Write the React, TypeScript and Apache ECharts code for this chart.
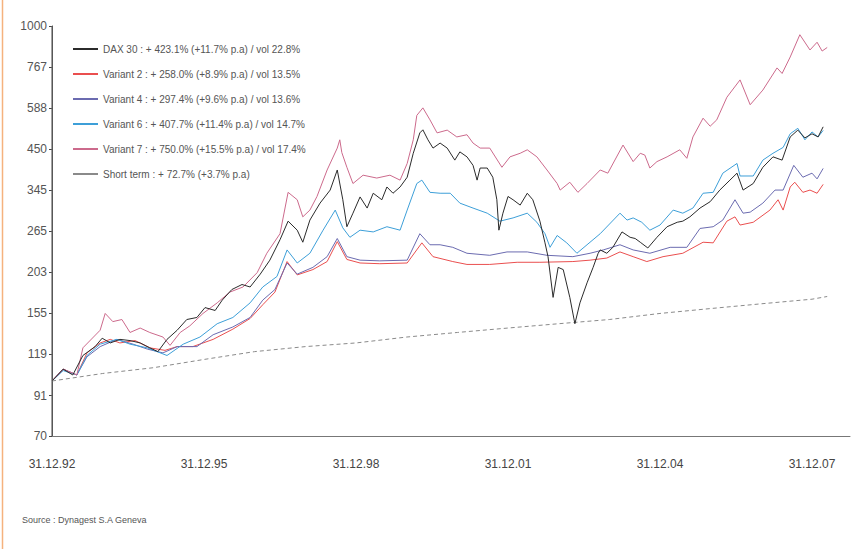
import React, { useEffect, useRef } from "react";
import * as echarts from "echarts";

const xTickValues = [1993, 1996, 1999, 2002, 2005, 2008];
const xTickLabels = ["31.12.92", "31.12.95", "31.12.98", "31.12.01", "31.12.04", "31.12.07"];
const yTickValues = [70, 91, 119, 155, 203, 265, 345, 450, 588, 767, 1000];

const seriesNames = [
  "DAX 30 : + 423.1% (+11.7% p.a) / vol 22.8%",
  "Variant 2 : + 258.0% (+8.9% p.a) / vol 13.5%",
  "Variant 4 : + 297.4% (+9.6% p.a) / vol 13.6%",
  "Variant 6 : + 407.7% (+11.4% p.a) / vol 14.7%",
  "Variant 7 : + 750.0% (+15.5% p.a) / vol 17.4%",
  "Short term : + 72.7% (+3.7% p.a)",
];

const seriesColors = ["#2b2b2b", "#ea4f4f", "#6b6bb0", "#3d9fd8", "#cc6a8c", "#8a8a8a"];

const dax = [
  [1993.0, 100], [1993.22, 108], [1993.41, 104], [1993.61, 118], [1993.85, 125], [1993.99, 132],
  [1994.15, 128], [1994.34, 131], [1994.54, 130], [1994.74, 128], [1994.93, 124], [1995.09, 121],
  [1995.27, 131], [1995.47, 139], [1995.66, 149], [1995.86, 151], [1996.02, 161], [1996.22, 158],
  [1996.36, 169], [1996.55, 181], [1996.75, 187], [1996.91, 184], [1997.11, 200], [1997.30, 219],
  [1997.50, 250], [1997.66, 282], [1997.84, 266], [1997.95, 246], [1998.09, 284], [1998.29, 317],
  [1998.49, 345], [1998.63, 393], [1998.74, 324], [1998.82, 272], [1998.94, 297], [1999.08, 330],
  [1999.22, 307], [1999.34, 338], [1999.51, 324], [1999.61, 352], [1999.73, 338], [1999.87, 352],
  [2000.01, 375], [2000.13, 438], [2000.26, 500], [2000.32, 510], [2000.42, 478], [2000.52, 453],
  [2000.66, 468], [2000.80, 453], [2000.95, 419], [2001.05, 442], [2001.19, 428], [2001.31, 405],
  [2001.39, 368], [2001.45, 398], [2001.59, 398], [2001.70, 375], [2001.78, 324], [2001.82, 266],
  [2001.90, 297], [2002.0, 331], [2002.10, 324], [2002.24, 313], [2002.38, 338], [2002.49, 324],
  [2002.63, 282], [2002.73, 245], [2002.79, 224], [2002.89, 172], [2002.99, 209], [2003.09, 206],
  [2003.22, 172], [2003.32, 145], [2003.42, 166], [2003.56, 189], [2003.68, 209], [2003.78, 229],
  [2003.82, 234], [2003.95, 229], [2004.07, 238], [2004.25, 263], [2004.41, 254], [2004.51, 252],
  [2004.61, 246], [2004.76, 237], [2004.94, 254], [2005.14, 272], [2005.34, 280], [2005.45, 282],
  [2005.59, 290], [2005.79, 307], [2005.99, 320], [2006.18, 345], [2006.38, 368], [2006.52, 385],
  [2006.64, 345], [2006.84, 360], [2007.03, 400], [2007.23, 428], [2007.41, 419], [2007.57, 487],
  [2007.72, 509], [2007.86, 484], [2008.0, 497], [2008.12, 487], [2008.22, 520],
];

const variant2 = [
  [1993.0, 100], [1993.22, 108], [1993.49, 104], [1993.69, 120], [1993.95, 128], [1994.15, 131],
  [1994.34, 128], [1994.64, 130], [1994.93, 124], [1995.23, 122], [1995.47, 125], [1995.78, 125],
  [1996.18, 131], [1996.57, 140], [1996.91, 150], [1997.16, 164], [1997.40, 178], [1997.64, 217],
  [1997.84, 199], [1998.15, 206], [1998.43, 217], [1998.63, 247], [1998.82, 220], [1999.08, 215],
  [1999.47, 214], [2000.01, 215], [2000.30, 245], [2000.52, 224], [2000.91, 217], [2001.19, 213],
  [2001.64, 213], [2002.18, 216], [2002.63, 216], [2003.28, 217], [2003.62, 219], [2003.95, 222],
  [2004.21, 231], [2004.47, 224], [2004.74, 217], [2005.06, 224], [2005.45, 229], [2005.85, 246],
  [2006.05, 245], [2006.32, 282], [2006.48, 290], [2006.58, 275], [2006.84, 280], [2007.17, 303],
  [2007.33, 324], [2007.43, 303], [2007.57, 352], [2007.66, 363], [2007.82, 340], [2007.96, 345],
  [2008.10, 338], [2008.22, 358],
];

const variant4 = [
  [1993.0, 100], [1993.22, 108], [1993.49, 104], [1993.69, 117], [1993.95, 125], [1994.28, 131],
  [1994.60, 127], [1994.88, 123], [1995.19, 120], [1995.47, 125], [1995.86, 125], [1996.18, 135],
  [1996.57, 142], [1996.91, 151], [1997.16, 169], [1997.40, 181], [1997.64, 215], [1997.84, 200],
  [1998.15, 209], [1998.43, 224], [1998.63, 252], [1998.82, 224], [1999.08, 219], [1999.47, 218],
  [2000.01, 219], [2000.26, 260], [2000.46, 242], [2000.66, 242], [2000.91, 238], [2001.19, 229],
  [2001.64, 226], [2001.98, 231], [2002.38, 231], [2002.77, 226], [2003.28, 224], [2003.62, 229],
  [2003.88, 234], [2004.21, 242], [2004.47, 234], [2004.80, 229], [2005.20, 238], [2005.53, 238],
  [2005.79, 269], [2006.05, 272], [2006.24, 284], [2006.48, 324], [2006.64, 297], [2006.78, 299],
  [2007.03, 317], [2007.27, 345], [2007.43, 345], [2007.64, 405], [2007.82, 375], [2008.0, 385],
  [2008.10, 371], [2008.22, 397],
];

const variant6 = [
  [1993.0, 100], [1993.22, 107], [1993.49, 104], [1993.69, 118], [1993.95, 127], [1994.28, 131],
  [1994.54, 127], [1994.88, 124], [1995.27, 118], [1995.59, 127], [1995.92, 133], [1996.26, 145],
  [1996.57, 151], [1996.91, 166], [1997.16, 184], [1997.44, 197], [1997.64, 234], [1997.84, 215],
  [1998.09, 229], [1998.35, 266], [1998.59, 303], [1998.74, 270], [1998.88, 254], [1999.08, 266],
  [1999.34, 263], [1999.61, 272], [1999.87, 266], [2000.01, 303], [2000.20, 360], [2000.30, 368],
  [2000.46, 340], [2000.66, 338], [2000.86, 338], [2001.05, 317], [2001.31, 307], [2001.59, 297],
  [2001.84, 282], [2002.10, 288], [2002.38, 297], [2002.57, 280], [2002.73, 260], [2002.83, 238],
  [2002.97, 257], [2003.16, 245], [2003.36, 229], [2003.56, 242], [2003.82, 260], [2004.21, 297],
  [2004.35, 284], [2004.47, 288], [2004.64, 280], [2004.80, 266], [2005.0, 275], [2005.26, 303],
  [2005.45, 297], [2005.65, 307], [2005.85, 338], [2006.05, 340], [2006.24, 385], [2006.52, 410],
  [2006.58, 378], [2006.84, 378], [2007.03, 419], [2007.23, 438], [2007.43, 455], [2007.57, 497],
  [2007.72, 515], [2007.86, 478], [2008.0, 503], [2008.12, 487], [2008.22, 508],
];

const variant7 = [
  [1993.0, 100], [1993.22, 108], [1993.49, 104], [1993.61, 124], [1993.95, 139], [1994.05, 155],
  [1994.20, 147], [1994.38, 149], [1994.54, 137], [1994.74, 141], [1994.93, 137], [1995.19, 133],
  [1995.33, 126], [1995.53, 137], [1995.72, 143], [1995.98, 155], [1996.26, 166], [1996.51, 178],
  [1996.77, 184], [1997.05, 202], [1997.24, 229], [1997.50, 260], [1997.66, 340], [1997.84, 324],
  [1997.95, 290], [1998.09, 303], [1998.23, 331], [1998.43, 393], [1998.63, 453], [1998.68, 478],
  [1998.72, 440], [1998.82, 400], [1998.94, 360], [1999.14, 380], [1999.41, 373], [1999.67, 380],
  [1999.87, 368], [2000.01, 410], [2000.13, 478], [2000.20, 560], [2000.32, 588], [2000.46, 544],
  [2000.60, 500], [2000.80, 509], [2000.99, 487], [2001.19, 494], [2001.31, 468], [2001.45, 453],
  [2001.64, 453], [2001.88, 400], [2002.04, 428], [2002.24, 438], [2002.38, 448], [2002.57, 428],
  [2002.77, 393], [2002.97, 360], [2003.03, 345], [2003.22, 363], [2003.38, 340], [2003.56, 360],
  [2003.82, 393], [2003.97, 385], [2004.27, 462], [2004.47, 415], [2004.61, 438], [2004.70, 433],
  [2004.80, 398], [2004.94, 415], [2005.14, 428], [2005.39, 448], [2005.53, 424], [2005.65, 487],
  [2005.85, 550], [2005.99, 522], [2006.12, 544], [2006.32, 630], [2006.58, 705], [2006.78, 600],
  [2007.03, 660], [2007.31, 762], [2007.41, 735], [2007.57, 818], [2007.76, 945], [2007.96, 856],
  [2008.10, 900], [2008.20, 850], [2008.30, 870],
];

const shortTerm = [
  [1993.0, 100], [1994.0, 105], [1995.0, 109], [1996.0, 115], [1997.0, 121], [1998.0, 125],
  [1999.0, 128], [2000.0, 133], [2001.0, 137], [2002.0, 141], [2003.0, 145], [2004.0, 149],
  [2005.0, 155], [2006.0, 160], [2007.0, 165], [2008.0, 170], [2008.3, 173],
];

const seriesData = [dax, variant2, variant4, variant6, variant7, shortTerm];

const FONT = "'Liberation Sans', Arial, sans-serif";

export default function App() {
  const ref = useRef<HTMLDivElement>(null);

  useEffect(() => {
    if (!ref.current) return;
    const chart = echarts.init(ref.current, undefined, { renderer: "svg" });
    chart.setOption({
      animation: false,
      backgroundColor: "#ffffff",
      textStyle: { fontFamily: FONT },
      grid: { left: 52, right: 5, top: 26, bottom: 113, containLabel: false },
      legend: {
        orient: "vertical",
        left: 68,
        top: 38,
        itemGap: 13,
        itemWidth: 25,
        itemHeight: 2,
        icon: "rect",
        textStyle: { color: "#555", fontSize: 10, fontFamily: FONT, lineHeight: 12 },
        data: seriesNames,
      },
      xAxis: {
        type: "value",
        min: 1993,
        max: 2008.75,
        axisLine: { show: true, onZero: false, lineStyle: { color: "#777", width: 1 } },
        axisTick: { show: false },
        splitLine: { show: false },
        axisLabel: {
          customValues: xTickValues,
          margin: 22,
          color: "#444",
          fontSize: 12,
          fontFamily: FONT,
          formatter: (v: number) => {
            const i = xTickValues.indexOf(Math.round(v));
            return i >= 0 ? xTickLabels[i] : "";
          },
        },
      },
      yAxis: {
        type: "log",
        logBase: 10,
        min: 70,
        max: 1000,
        position: "left",
        axisLine: { show: true, onZero: false, lineStyle: { color: "#444", width: 1 } },
        axisTick: { show: true, customValues: yTickValues, length: 3, lineStyle: { color: "#444" } },
        splitLine: { show: false },
        minorTick: { show: false },
        axisLabel: {
          customValues: yTickValues,
          margin: 5,
          color: "#555",
          fontSize: 12,
          fontFamily: FONT,
          formatter: (v: number) => String(Math.round(v)),
        },
      },
      series: seriesNames.map((name, i) => ({
        name,
        type: "line",
        data: seriesData[i],
        showSymbol: false,
        symbol: "none",
        color: seriesColors[i],
        lineStyle: {
          width: 1,
          color: seriesColors[i],
          type: i === 5 ? [4, 3] : "solid",
        },
        z: i === 0 ? 5 : 2,
      })),
      graphic: [
        {
          type: "line",
          shape: { x1: 2.5, y1: 0, x2: 2.5, y2: 549 },
          style: { stroke: "#f5b27e", lineWidth: 1.5 },
        },
        {
          type: "line",
          shape: { x1: 52, y1: 26, x2: 52, y2: 436 },
          style: { stroke: "#666", lineWidth: 1.2 },
          z: 10,
        },
        {
          type: "text",
          left: 22,
          top: 515,
          style: { text: "Source : Dynagest S.A Geneva", fill: "#555", fontSize: 9, fontFamily: FONT },
        },
      ],
    });
    return () => chart.dispose();
  }, []);

  return (
    <div
      ref={ref}
      style={{ position: "fixed", left: 0, top: 0, width: 855, height: 549, background: "#fff" }}
    />
  );
}
